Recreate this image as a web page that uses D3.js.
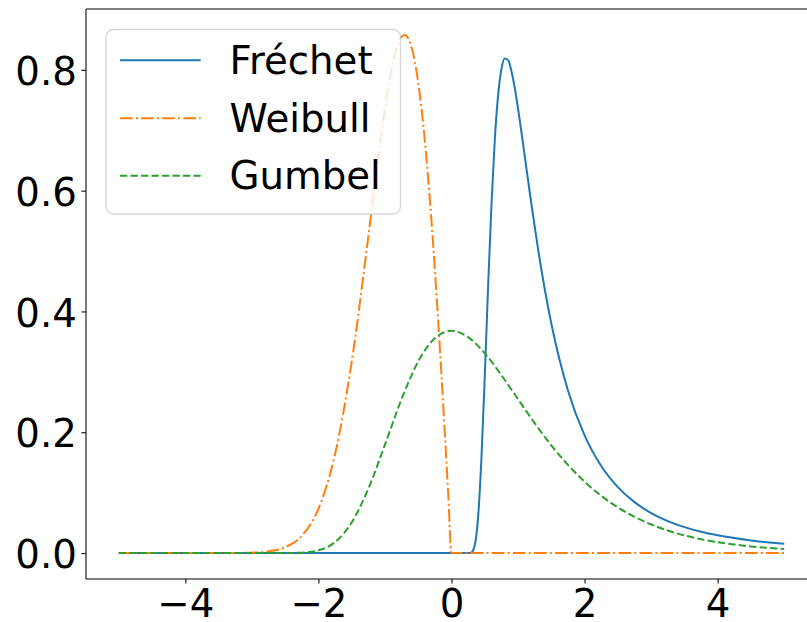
<!DOCTYPE html>
<html><head><meta charset="utf-8">
<script src="https://cdn.jsdelivr.net/npm/d3@7"></script>
<style>html,body{margin:0;padding:0;background:#fff;}svg{display:block;font-family:"DejaVu Sans",sans-serif;}</style>
</head><body>
<script>
// Data
const frechetX = [-5, 0.25, 0.3, 0.35, 0.4, 0.45, 0.5, 0.55, 0.6, 0.65, 0.7, 0.75, 0.8, 0.85, 0.9, 0.95, 1.0, 1.1, 1.2, 1.3, 1.4, 1.5, 1.75, 2, 2.25, 2.5, 2.75, 3, 3.25, 3.5, 3.75, 4, 4.5, 5];
const frechetY = [0, 0, 0.0011, 0.0133, 0.0603, 0.1573, 0.2931, 0.4408, 0.5757, 0.6829, 0.7576, 0.8012, 0.8188, 0.8160, 0.7982, 0.7703, 0.7358, 0.6576, 0.5780, 0.5038, 0.4376, 0.3800, 0.2692, 0.1947, 0.1441, 0.1091, 0.0843, 0.0663, 0.0530, 0.0430, 0.0353, 0.0294, 0.0209, 0.0154];

const weibullX = [-5, -3.5, -3.25, -3, -2.75, -2.5, -2.25, -2, -1.75, -1.5, -1.25, -1.1, -1, -0.9, -0.8, -0.75, -0.7, -0.65, -0.6, -0.5, -0.4, -0.3, -0.2, -0.1, -0.05, 0, 5];
const weibullY = [0, 0, 0.0002, 0.0007, 0.0029, 0.0097, 0.0285, 0.0733, 0.1637, 0.3162, 0.5240, 0.6560, 0.7358, 0.8007, 0.8437, 0.8547, 0.8577, 0.8520, 0.8372, 0.7788, 0.6817, 0.5484, 0.3843, 0.1980, 0.0998, 0, 0];

const gumbelX = [-5, -2.5, -2.25, -2, -1.75, -1.5, -1.25, -1, -0.75, -0.5, -0.25, 0, 0.25, 0.5, 0.75, 1, 1.25, 1.5, 1.75, 2, 2.25, 2.5, 2.75, 3, 3.25, 3.5, 3.75, 4, 4.25, 4.5, 4.75, 5];
const gumbelY = [0, 0.0001, 0.0007, 0.0046, 0.0182, 0.0507, 0.1064, 0.1794, 0.2549, 0.3171, 0.3556, 0.3679, 0.3574, 0.3307, 0.2945, 0.2547, 0.2151, 0.1785, 0.1461, 0.1182, 0.0949, 0.0756, 0.0600, 0.0474, 0.0373, 0.0293, 0.0230, 0.0180, 0.0141, 0.0110, 0.0086, 0.0067];

const seriesNames = ["Fréchet", "Weibull", "Gumbel"];
const seriesColors = ["#1f77b4", "#ff7f0e", "#2ca02c"];
const xTicks = [-4, -2, 0, 2, 4];
const yTicks = [0.0, 0.2, 0.4, 0.6, 0.8];

const W = 807, H = 622;
const svg = d3.select("body").append("svg").attr("width", W).attr("height", H);

const x = d3.scaleLinear().domain([-5.5, 5.5]).range([85.5, 817.5]);
const y = d3.scaleLinear().domain([-0.04289, 0.90066]).range([579, 9]);

const fs = 38.7;
const series = [
  {name: seriesNames[0], color: seriesColors[0], xs: frechetX, ys: frechetY, dash: null},
  {name: seriesNames[1], color: seriesColors[1], xs: weibullX, ys: weibullY, dash: "12.7,3.2,2,3.2"},
  {name: seriesNames[2], color: seriesColors[2], xs: gumbelX, ys: gumbelY, dash: "7.3,3.2"}
];

const line = d3.line().x(d => x(d[0])).y(d => y(d[1])).curve(d3.curveMonotoneX);

const plot = svg.append("g");
series.forEach(s => {
  const pts = s.xs.map((v, i) => [v, s.ys[i]]);
  plot.append("path").datum(pts)
    .attr("d", line)
    .attr("fill", "none")
    .attr("stroke", s.color)
    .attr("stroke-width", 2)
    .attr("stroke-dasharray", s.dash)
    .attr("stroke-linejoin", "round");
});

// Axes
const xAxis = d3.axisBottom(x).tickValues(xTicks).tickSize(4.6).tickPadding(4.6)
  .tickFormat(d => d3.format("d")(d).replace("-", "\u2212"));
const gx = svg.append("g").attr("transform", "translate(0,579)").call(xAxis);
gx.select(".domain").remove();
gx.selectAll(".tick line").attr("stroke", "#000").attr("stroke-width", 1.06);
gx.selectAll(".tick text").attr("font-size", fs).attr("font-family", "DejaVu Sans")
  .attr("fill", "#000").attr("dy", null).attr("y", 38);

const yAxis = d3.axisLeft(y).tickValues(yTicks).tickSize(4.6).tickPadding(4.6)
  .tickFormat(d3.format(".1f"));
const gy = svg.append("g").attr("transform", "translate(86,0)").call(yAxis);
gy.select(".domain").remove();
gy.selectAll(".tick line").attr("stroke", "#000").attr("stroke-width", 1.06);
gy.selectAll(".tick text").attr("font-size", fs).attr("font-family", "DejaVu Sans")
  .attr("fill", "#000").attr("dy", null).attr("y", 14.7);

// Spines
const sp = svg.append("g").attr("stroke", "#000").attr("stroke-width", 1.06).attr("fill", "none");
sp.append("line").attr("x1", 86).attr("x2", 86).attr("y1", 9).attr("y2", 579);
sp.append("line").attr("x1", 86).attr("x2", 817.5).attr("y1", 579).attr("y2", 579);
sp.append("line").attr("x1", 86).attr("x2", 817.5).attr("y1", 9).attr("y2", 9);
sp.append("line").attr("x1", 817.5).attr("x2", 817.5).attr("y1", 9).attr("y2", 579);

// Legend
const lg = svg.append("g");
lg.append("rect").attr("x", 106).attr("y", 29.5).attr("width", 294.5).attr("height", 184.5)
  .attr("rx", 7.7).attr("ry", 7.7)
  .attr("fill", "#fff").attr("fill-opacity", 0.8)
  .attr("stroke", "#cccccc").attr("stroke-opacity", 0.8).attr("stroke-width", 1.32);
const rowY = [60.3, 118.3, 175.7];
series.forEach((s, i) => {
  lg.append("line").attr("x1", 120).attr("x2", 200.7).attr("y1", rowY[i]).attr("y2", rowY[i])
    .attr("stroke", s.color).attr("stroke-width", 2).attr("stroke-dasharray", s.dash);
  lg.append("text").attr("x", 229.5).attr("y", rowY[i] + 13.5)
    .attr("font-size", fs).attr("fill", "#000").text(s.name);
});
</script>
</body></html>
